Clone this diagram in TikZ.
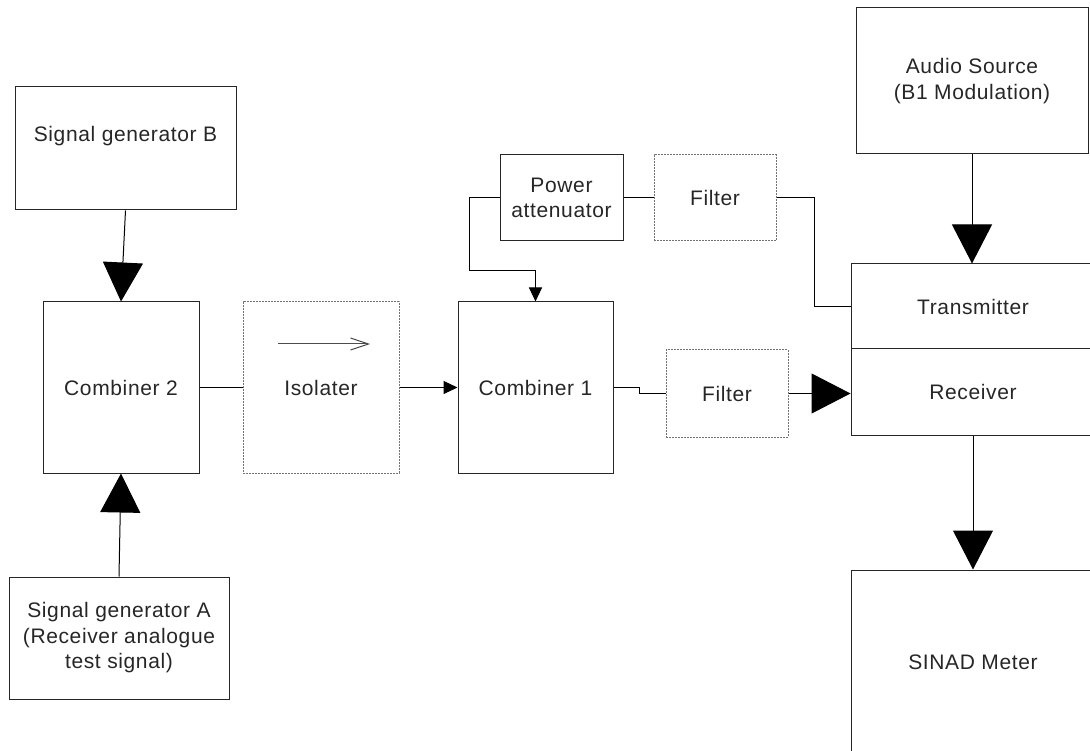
\documentclass[tikz,border=0pt]{standalone}
\usepackage{fontspec}
\setmainfont[LetterSpace=3]{Liberation Sans}
\usetikzlibrary{arrows.meta}
\begin{document}
\begin{tikzpicture}[x=1pt,y=-1pt,
  every node/.style={font=\fontsize{21}{25.5}\selectfont, text=black!85},
  blk/.style={draw=black!85, line width=1pt, inner sep=0pt, align=center},
  dblk/.style={draw=black!55, line width=1pt, dash pattern=on 2pt off 1pt, inner sep=0pt, align=center},
  wire/.style={draw=black, line width=1pt},
  bigtip/.style={-{Triangle[width=40pt,length=39pt]}},
  smalltip/.style={-{Triangle[width=13pt,length=14pt]}}
]
\clip (0,0) rectangle (1090,751);
% nodes
\node[blk, minimum width=221pt, minimum height=123pt] (sgB) at (125.5,148.5) {};
\node at ([yshift=12pt]sgB.center) (sgBt) {Signal generator B};
\node[blk, minimum width=156pt, minimum height=171pt] (comb2) at (121,387.5) {Combiner 2};
\node[blk, minimum width=220pt, minimum height=122pt] (sgA) at (119,638) {Signal generator A\\(Receiver analogue\\test signal)};
\node[dblk, minimum width=156pt, minimum height=171pt] (iso) at (321,387.5) {Isolater};
\node[blk, minimum width=155pt, minimum height=171pt] (comb1) at (535.5,387.5) {Combiner 1};
\node[blk, minimum width=123pt, minimum height=86pt] (pwr) at (561.5,198) {Power\\attenuator};
\node[dblk, minimum width=122pt, minimum height=86pt] (filtT) at (715,198) {Filter};
\node[dblk, minimum width=122pt, minimum height=87pt] (filtB) at (727,393.5) {Filter};
\node[blk, minimum width=232pt, minimum height=146pt] (audio) at (972,81) {Audio Source\\(B1 Modulation)};
\node[blk, minimum width=244pt, minimum height=85pt] (tx) at (973,306.5) {Transmitter};
\node[blk, minimum width=244pt, minimum height=86pt] (rx) at (973,392) {Receiver};
\node[blk, minimum width=244pt, minimum height=184pt] (sinad) at (973,662) {SINAD Meter};
% isolator direction arrow
\coordinate (isoA) at ([xshift=-43pt,yshift=43.5pt]iso.center);
\coordinate (isoB) at ([xshift=49pt,yshift=43.5pt]iso.center);
\draw[draw=black!70, line width=1pt, -{Straight Barb[length=18pt,width=12pt]}] (isoA) -- (isoB);
% connectors
\draw[wire, bigtip] (sgB.south) -- (comb2.north);
\draw[wire, bigtip] (sgA.north) -- (comb2.south);
\draw[wire] (comb2.east) -- (iso.west);
\draw[wire, smalltip] (iso.east) -- (comb1.west);
\draw[wire] (comb1.east) -- ++(26,0) |- (filtB.west);
\draw[wire, bigtip] (filtB.east) -- (filtB.east -| rx.west);
\draw[wire, smalltip] (pwr.west) -- ++(-30,0) |- ([yshift=31pt]comb1.north) -- (comb1.north);
\draw[wire] (pwr.east) -- (filtT.west);
\draw[wire] (filtT.east) -- ++(38,0) |- (tx.west);
\draw[wire, bigtip] (audio.south) -- (audio.south |- tx.north);
\draw[wire, bigtip] (rx.south) -- (sinad.north);
\end{tikzpicture}
\end{document}
